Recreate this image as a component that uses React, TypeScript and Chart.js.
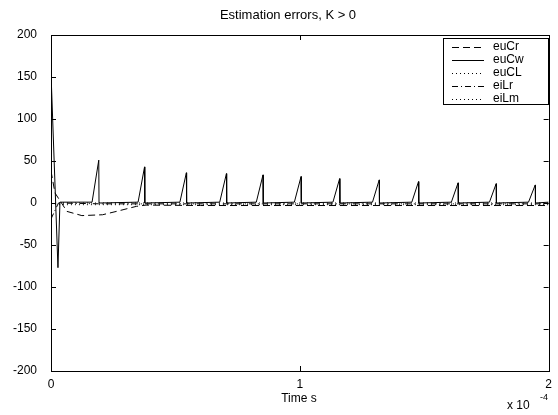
import React, { useEffect, useRef } from "react";
import { Chart, registerables } from "chart.js";

Chart.register(...registerables);

// ---- Data (time in units of 1e-4 s) ----
const seriesNames = ["euCr", "euCw", "euCL", "eiLr", "eiLm"];

// euCw: initial transient, then saw-tooth spikes
const cwStartT = [0, 0.028, 0.036];
const cwStartV = [155, -77, 1];
const spikeStartT = [0.165, 0.35, 0.518, 0.678, 0.825, 0.978, 1.133, 1.292, 1.45, 1.609, 1.762, 1.919];
const spikePeakT = [0.192, 0.376, 0.544, 0.705, 0.852, 1.005, 1.16, 1.319, 1.477, 1.636, 1.789, 1.946];
const spikePeakV = [51, 43, 36, 35, 33.5, 31.5, 29, 27.5, 25.5, 24, 23, 21.5];
const cwEndT = 2;
const cwEndV = 1;

// euCr: dashed transient
const crT = [0, 0.016, 0.064, 0.124, 0.207, 0.263, 0.343, 0.382, 0.6, 1.0, 1.5, 2.0];
const crV = [38, 12, -10, -15, -14, -10, -4, -2.5, -3, -3, -3, -3];

// euCL: dotted, near zero
const clT = [0, 0.03, 1.0, 2.0];
const clV = [-1, -2, -2, -2];

// eiLr: dash-dot
const lrT = [0, 0.03, 0.2, 1.0, 2.0];
const lrV = [-19, 0, -1, -1, -1];

// eiLm: dotted, near zero
const lmT = [0, 0.03, 1.0, 2.0];
const lmV = [0, 0, 0, 0];

const xTicks = [0, 1, 2];
const yTicks = [-200, -150, -100, -50, 0, 50, 100, 150, 200];

const FONT = "'Liberation Sans', Arial, Helvetica, sans-serif";

function pts(t: number[], v: number[]) {
  return t.map((x, i) => ({ x, y: v[i] }));
}

function cwPoints() {
  const out = pts(cwStartT, cwStartV);
  for (let i = 0; i < spikePeakT.length; i++) {
    out.push({ x: spikeStartT[i], y: 1 });
    out.push({ x: spikePeakT[i], y: spikePeakV[i] });
    out.push({ x: spikePeakT[i] + 0.001, y: 0 });
  }
  out.push({ x: cwEndT, y: cwEndV });
  return out;
}

const dashes: Record<string, number[]> = {
  euCr: [7, 4],
  euCw: [],
  euCL: [1, 3],
  eiLr: [6, 3, 1, 3],
  eiLm: [1, 3],
};

const framePlugin = {
  id: "frame",
  afterDraw(chart: any) {
    const { ctx, chartArea: a, scales } = chart;
    const xs = scales.x;
    const ys = scales.y;
    ctx.save();
    ctx.strokeStyle = "#000";
    ctx.lineWidth = 1;
    ctx.setLineDash([]);
    ctx.strokeRect(Math.round(a.left) + 0.5, Math.round(a.top) + 0.5, Math.round(a.right - a.left), Math.round(a.bottom - a.top));
    const tl = 5;
    ctx.beginPath();
    for (const v of yTicks) {
      const y = Math.round(ys.getPixelForValue(v)) + 0.5;
      ctx.moveTo(a.left, y);
      ctx.lineTo(a.left + tl, y);
      ctx.moveTo(a.right, y);
      ctx.lineTo(a.right - tl, y);
    }
    for (const v of xTicks) {
      const x = Math.round(xs.getPixelForValue(v)) + 0.5;
      ctx.moveTo(x, a.bottom);
      ctx.lineTo(x, a.bottom - tl);
      ctx.moveTo(x, a.top);
      ctx.lineTo(x, a.top + tl);
    }
    ctx.stroke();

    // Title and axis labels
    ctx.fillStyle = "#000";
    ctx.textAlign = "center";
    ctx.textBaseline = "middle";
    ctx.font = `13px ${FONT}`;
    ctx.fillText("Estimation errors, K > 0", 288, 15);
    ctx.font = `12px ${FONT}`;
    ctx.fillText("Time s", 299, 399);
    ctx.textAlign = "left";
    ctx.fillText("x 10", 507, 406);
    ctx.font = `9px ${FONT}`;
    ctx.fillText("-4", 540, 398);

    // Legend
    const lx = 443, ly = 38, lw = 105, lh = 66;
    ctx.fillStyle = "#fff";
    ctx.fillRect(lx, ly, lw, lh);
    ctx.strokeStyle = "#000";
    ctx.strokeRect(lx + 0.5, ly + 0.5, lw, lh);
    ctx.font = `12px ${FONT}`;
    ctx.textAlign = "left";
    ctx.textBaseline = "middle";
    seriesNames.forEach((name, i) => {
      const y = ly + 8.5 + i * 13;
      ctx.beginPath();
      ctx.setLineDash(dashes[name]);
      ctx.moveTo(452, Math.round(y) + 0.5);
      ctx.lineTo(484, Math.round(y) + 0.5);
      ctx.stroke();
      ctx.setLineDash([]);
      ctx.fillStyle = "#000";
      ctx.fillText(name, 493, y);
    });
    ctx.restore();
  },
};

export default function App() {
  const ref = useRef<HTMLCanvasElement | null>(null);
  useEffect(() => {
    if (!ref.current) return;
    const mk = (label: string, data: any[]) => ({
      label,
      data,
      borderColor: "#000",
      borderWidth: 1,
      borderDash: dashes[label],
      pointRadius: 0,
      tension: 0,
      fill: false,
    });
    const chart = new Chart(ref.current, {
      type: "line",
      data: {
        datasets: [
          mk("euCr", pts(crT, crV)),
          mk("euCw", cwPoints()),
          mk("euCL", pts(clT, clV)),
          mk("eiLr", pts(lrT, lrV)),
          mk("eiLm", pts(lmT, lmV)),
        ],
      },
      options: {
        responsive: false,
        animation: false,
        events: [],
        layout: { padding: { top: 35, right: 5, left: 0, bottom: 0 } },
        plugins: {
          legend: { display: false },
          tooltip: { enabled: false },
          title: { display: false },
        },
        scales: {
          x: {
            type: "linear",
            min: 0,
            max: 2,
            afterFit: (s: any) => { s.height = 44; },
            afterBuildTicks: (s: any) => { s.ticks = xTicks.map((v) => ({ value: v })); },
            ticks: { color: "#000", font: { family: FONT, size: 12 }, padding: 6, maxRotation: 0 },
            grid: { display: false, drawTicks: false },
            border: { display: false },
          },
          y: {
            type: "linear",
            min: -200,
            max: 200,
            afterFit: (s: any) => { s.width = 51; },
            afterBuildTicks: (s: any) => { s.ticks = yTicks.map((v) => ({ value: v })); },
            ticks: { color: "#000", font: { family: FONT, size: 12 }, padding: 14 },
            grid: { display: false, drawTicks: false },
            border: { display: false },
          },
        },
      },
      plugins: [framePlugin],
    });
    return () => chart.destroy();
  }, []);
  return (
    <div style={{ position: "absolute", left: 0, top: 0, width: 558, height: 415, background: "#fff" }}>
      <canvas ref={ref} width={558} height={415} style={{ display: "block" }} />
    </div>
  );
}
